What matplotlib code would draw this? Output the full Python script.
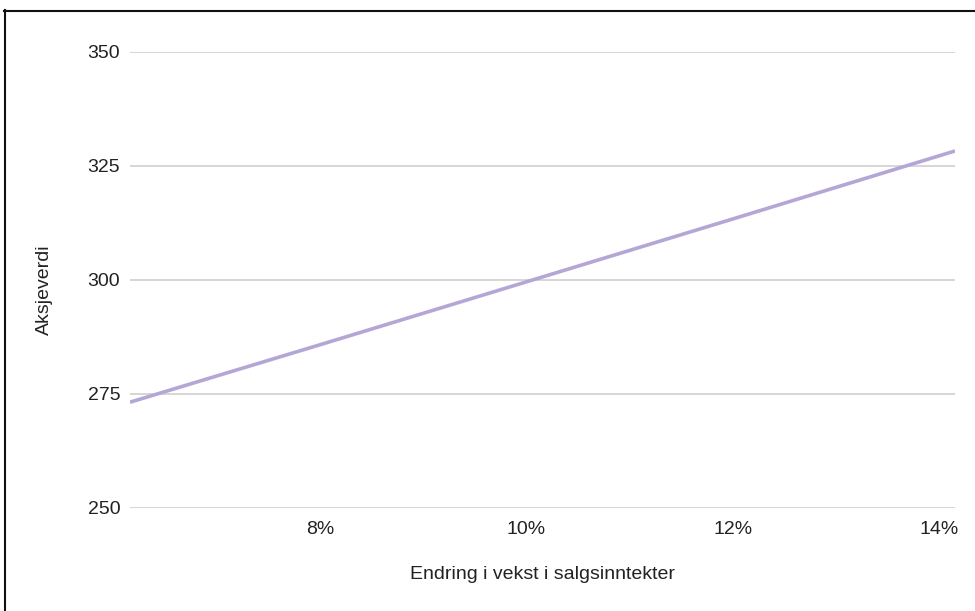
import matplotlib
matplotlib.use("Agg")

import matplotlib.pyplot as plt
from matplotlib.lines import Line2D
from matplotlib.ticker import FuncFormatter

plt.rcParams["font.family"] = ["Liberation Sans", "DejaVu Sans"]

# vekst i salgsinntekter (%) og tilhørende aksjeverdi
growth = [6.16, 8.0, 10.0, 12.0, 14.15]
share_value = [273.2, 285.8, 299.6, 313.4, 328.3]

x_ticks = [8, 10, 12, 14]
y_ticks = [250, 275, 300, 325, 350]

fig = plt.figure(figsize=(9.75, 6.11), dpi=100)
ax = fig.add_axes([130 / 975, 1 - 508 / 611, 825 / 975, 456 / 611])

ax.plot(growth, share_value, color="#b4a7d6", linewidth=2.6, solid_capstyle="butt", zorder=3)

ax.set_xlim(6.16, 14.15)
ax.set_ylim(250, 350)
ax.set_xticks(x_ticks)
ax.set_yticks(y_ticks)
ax.xaxis.set_major_formatter(FuncFormatter(lambda v, _: f"{v:.0f}%"))

ax.grid(axis="y", color="#d0d0d0", linewidth=1.2)
ax.set_axisbelow(True)
for s in ax.spines.values():
    s.set_visible(False)
ax.tick_params(length=0, labelsize=14, colors="#222222")
ax.tick_params(axis="x", pad=9.5)
ax.tick_params(axis="y", pad=7)

ax.set_xlabel("Endring i vekst i salgsinntekter", fontsize=14, color="#222222")
ax.set_ylabel("Aksjeverdi", fontsize=14, color="#222222")
ax.xaxis.set_label_coords(0.5, -0.128)
ax.yaxis.set_label_coords(-0.093, 0.478)

# ramme oppe og til venstre
fig.add_artist(Line2D([4 / 975, 1], [1 - 10.5 / 611] * 2, color="#111111", linewidth=1.5))
fig.add_artist(Line2D([4.5 / 975] * 2, [0, 1 - 10 / 611], color="#111111", linewidth=1.5))

fig.savefig("out.png", dpi=100)
